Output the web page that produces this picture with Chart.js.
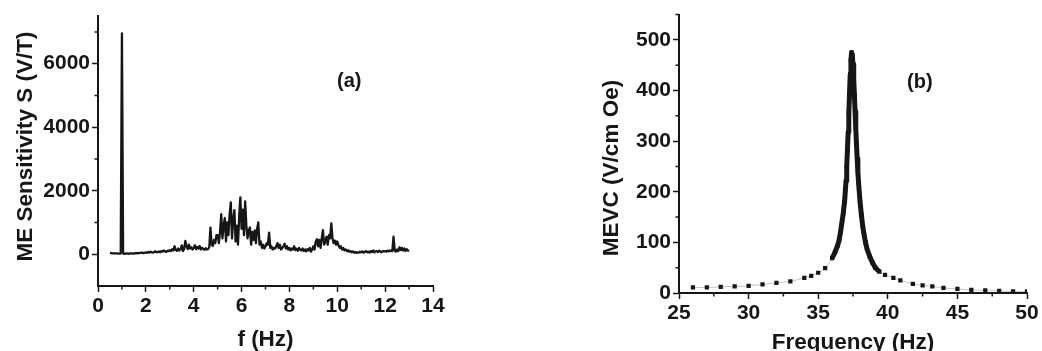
<!DOCTYPE html>
<html>
<head>
<meta charset="utf-8">
<script src="https://cdn.jsdelivr.net/npm/chart.js@4.4.1/dist/chart.umd.min.js"></script>
<style>
  html, body { margin: 0; padding: 0; background: #fff; }
  #wrap { position: relative; width: 1042px; height: 351px; overflow: hidden; }
  canvas { position: absolute; top: 0; }
</style>
</head>
<body>
<div id="wrap">
  <canvas id="chartA" width="480" height="351" style="left:0px"></canvas>
  <canvas id="chartB" width="482" height="351" style="left:560px"></canvas>
</div>
<script>
// (a) ME sensitivity spectrum, one reading every 0.05 Hz starting at 0.5 Hz
const specStart = 0.5;
const specStep = 0.05;
const specValues = [
  40, 35, 30, 30, 28, 25, 25, 22, 20, 20,                                               // 0.50 - 0.95
  6950,                                                                                  // 1.00
  20, 15, 20, 25, 20, 15, 25, 30, 20, 25, 35, 30, 40, 30, 45, 40, 50, 35, 45,            // 1.05 - 1.95
  60, 45, 70, 55, 80, 60, 50, 75, 90, 65, 70, 85, 60, 100, 80, 120, 90, 70, 110, 95,     // 2
  130, 100, 160, 120, 250, 140, 110, 180, 120, 150, 280, 100, 170, 420, 250, 160, 300, 180, 220, 150, // 3
  200, 280, 160, 230, 180, 260, 150, 200, 170, 140, 190, 150, 160, 220, 840, 300, 260, 450, 350, 600, // 4
  600, 350, 700, 1260, 500, 900, 1140, 400, 1000, 600, 1250, 1630, 500, 1100, 1390, 400, 900, 300, 1200, 1790, // 5
  800, 1400, 600, 1660, 900, 500, 750, 840, 300, 700, 450, 750, 350, 800, 1000, 300, 400, 200, 300, 180, // 6
  250, 350, 300, 680, 200, 250, 150, 200, 180, 250, 350, 200, 300, 150, 200, 250, 330, 180, 250, 150, // 7
  200, 120, 180, 150, 250, 130, 170, 110, 200, 140, 120, 180, 100, 150, 90, 160, 120, 200, 80, 150, // 8
  250, 150, 400, 470, 250, 450, 200, 500, 760, 300, 400, 550, 300, 600, 500, 970, 500, 350, 430, 300, // 9
  400, 280, 200, 250, 150, 200, 120, 150, 100, 130, 80, 100, 60, 90, 50, 70, 40, 60, 50, 80, // 10
  60, 90, 50, 70, 100, 60, 80, 50, 100, 70, 120, 60, 90, 100, 70, 110, 80, 60, 100, 90,  // 11
  100, 80, 110, 90, 120, 100, 100, 550, 120, 80, 150, 100, 220, 130, 200, 120, 180, 100, 160, 120, // 12
  100                                                                                    // 13.00
];
const aTicksX = [0, 2, 4, 6, 8, 10, 12, 14];
const aMinorX = [1, 3, 5, 7, 9, 11, 13];
const aTicksY = [0, 2000, 4000, 6000];
const aMinorY = [1000, 3000, 5000, 7000];

// (b) MEVC around the resonance
const resFreq = [26, 27, 28, 29, 30, 31, 32, 33, 34, 34.5, 35, 35.5, 36,
  36.2, 36.4, 36.5, 36.6, 36.7, 36.8, 36.9,
  37, 37.05, 37.1, 37.15, 37.2, 37.25, 37.3, 37.35, 37.4, 37.45, 37.5, 37.55, 37.6, 37.65, 37.7, 37.75, 37.8, 37.85, 37.9,
  38, 38.1, 38.2, 38.3, 38.4, 38.5, 38.7, 38.9, 39.1, 39.4, 39.8,
  40.4, 40.9, 41.8, 42.5, 43.2, 44, 45, 46, 47, 48, 49, 50];
const resValues = [11, 11, 12, 13, 14, 17, 20, 23, 30, 34, 40, 49, 69,
  80, 94, 104, 120, 138, 158, 182,
  222, 250, 282, 318, 355, 395, 432, 460, 475, 470, 452, 425, 392, 358, 325, 294, 265, 240, 218,
  182, 155, 132, 114, 100, 88, 72, 60, 50, 42, 36,
  30, 25, 18, 15, 13, 10, 8, 6, 5, 4, 3, 3];
const bTicksX = [25, 30, 35, 40, 45, 50];
const bMinorX = [27.5, 32.5, 37.5, 42.5, 47.5];
const bTicksY = [0, 100, 200, 300, 400, 500];
const bMinorY = [50, 150, 250, 350, 450, 550];

const FONT = "'Liberation Sans', Arial, sans-serif";
const INK = '#161616';

// short outward ticks between the labelled ones, the rotated y title and the panel letter
const extras = {
  id: 'extras',
  afterDraw(chart, args, opts) {
    const { ctx, chartArea, scales } = chart;
    ctx.save();
    ctx.strokeStyle = INK;
    ctx.lineWidth = 1.5;
    ctx.beginPath();
    opts.minorX.forEach(v => {
      const px = scales.x.getPixelForValue(v);
      ctx.moveTo(px, chartArea.bottom);
      ctx.lineTo(px, chartArea.bottom + 3.5);
    });
    opts.minorY.forEach(v => {
      const py = scales.y.getPixelForValue(v);
      ctx.moveTo(chartArea.left, py);
      ctx.lineTo(chartArea.left - 3.5, py);
    });
    ctx.stroke();
    ctx.fillStyle = INK;
    ctx.textAlign = 'center';
    ctx.textBaseline = 'middle';
    ctx.font = 'bold 20px ' + FONT;
    ctx.fillText(opts.tag, scales.x.getPixelForValue(opts.tagX), scales.y.getPixelForValue(opts.tagY));
    ctx.font = 'bold 22.5px ' + FONT;
    ctx.translate(opts.yTitleAt[0], opts.yTitleAt[1]);
    ctx.rotate(-Math.PI / 2);
    ctx.fillText(opts.yTitle, 0, 0);
    ctx.restore();
  }
};

function axis(min, max, ticks, title, titlePad, fit) {
  return {
    type: 'linear',
    min: min,
    max: max,
    afterBuildTicks: s => { s.ticks = ticks.map(v => ({ value: v })); },
    afterFit: fit,
    border: { display: true, color: INK, width: 2 },
    grid: { display: true, drawOnChartArea: false, drawTicks: true, tickLength: 6, tickColor: INK, tickWidth: 1.5 },
    ticks: {
      color: INK,
      padding: 2,
      font: { family: FONT, size: 21, weight: 'bold' },
      callback: v => String(v)
    },
    title: {
      display: !!title,
      text: title,
      color: INK,
      padding: titlePad,
      font: { family: FONT, size: 22.5, weight: 'bold' }
    }
  };
}

const common = {
  responsive: false,
  animation: false,
  events: [],
  plugins: { legend: { display: false }, tooltip: { enabled: false } }
};

new Chart(document.getElementById('chartA'), {
  type: 'scatter',
  data: {
    datasets: [{
      data: specValues.map((v, i) => ({ x: specStart + i * specStep, y: v })),
      showLine: true,
      borderColor: INK,
      borderWidth: 2.3,
      borderJoinStyle: 'round',
      pointRadius: 0,
      tension: 0
    }]
  },
  options: {
    ...common,
    layout: { padding: { top: 16, right: 47, bottom: 0, left: 0 } },
    scales: {
      x: axis(0, 14, aTicksX, 'f (Hz)', { top: 0, bottom: -2.5 }, s => { s.height = 65; }),
      y: axis(-1000, 7500, aTicksY, '', 0, s => { s.width = 98; })
    },
    plugins: {
      ...common.plugins,
      extras: {
        minorX: aMinorX, minorY: aMinorY, tag: '(a)', tagX: 10.5, tagY: 5430,
        yTitle: 'ME Sensitivity S (V/T)', yTitleAt: [25.5, 146.5]
      }
    }
  },
  plugins: [extras]
});

const resPoints = resFreq.map((f, i) => ({ x: f, y: resValues[i] }));

new Chart(document.getElementById('chartB'), {
  type: 'scatter',
  data: {
    datasets: [{
      // measured points; closely spaced ones merge into a solid band
      data: resPoints,
      showLine: true,
      borderWidth: 5,
      borderJoinStyle: 'round',
      segment: {
        borderColor: c => (c.p1.parsed.x - c.p0.parsed.x < 0.35 ? INK : 'rgba(0,0,0,0)')
      },
      pointStyle: 'rect',
      pointRadius: 3,
      pointBackgroundColor: INK,
      pointBorderWidth: 0,
      order: 1
    }, {
      // faint fitted curve
      data: resPoints,
      showLine: true,
      borderColor: '#c4c4c4',
      borderWidth: 1,
      pointRadius: 0,
      cubicInterpolationMode: 'monotone',
      order: 2
    }]
  },
  options: {
    ...common,
    layout: { padding: { top: 14, right: 15, bottom: 0, left: 0 } },
    scales: {
      x: axis(25, 50, bTicksX, 'Frequency (Hz)', { top: 0, bottom: -5 }, s => { s.height = 58; }),
      y: axis(0, 550, bTicksY, '', 0, s => { s.width = 119; })
    },
    plugins: {
      ...common.plugins,
      extras: {
        minorX: bMinorX, minorY: bMinorY, tag: '(b)', tagX: 42.3, tagY: 416,
        yTitle: 'MEVC (V/cm Oe)', yTitleAt: [52, 168]
      }
    }
  },
  plugins: [extras]
});
</script>
</body>
</html>
